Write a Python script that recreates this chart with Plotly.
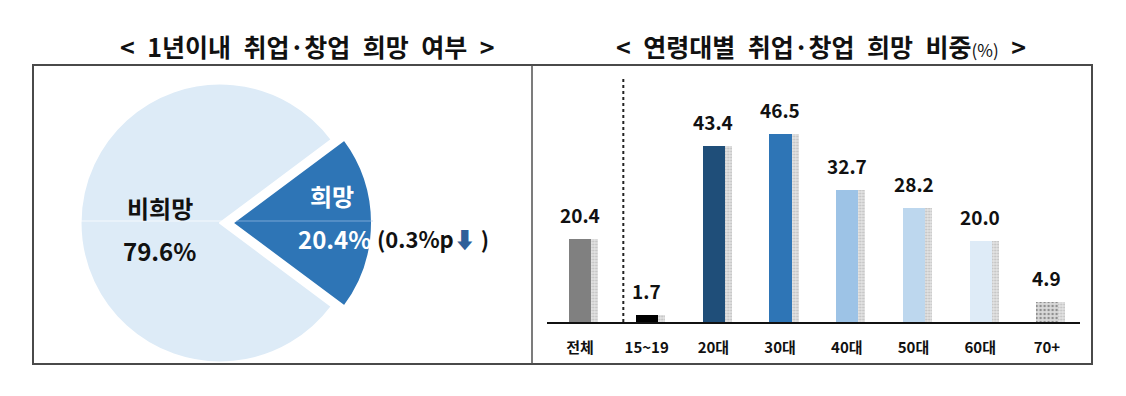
import plotly.graph_objects as go

# ---- data ----
pie_labels = ["희망", "비희망"]
pie_values = [20.4, 79.6]
pie_change = "(0.3%p"

age_groups = ["전체", "15~19", "20대", "30대", "40대", "50대", "60대", "70+"]
age_values = [20.4, 1.7, 43.4, 46.5, 32.7, 28.2, 20.0, 4.9]

title_left = "< 1년이내 취업·창업 희망 여부 >"
title_right = "< 연령대별 취업·창업 희망 비중(%) >"

# ---- styles ----
OFF = 8  # page body margin
W, H = 1110, 380
FONT = "Noto Sans CJK KR"
bar_colors = ["#808080", "#000000", "#1f4e79", "#2e75b6", "#9dc3e6", "#bdd7ee", "#deebf7", "#d9d9d9"]
pie_colors = ["#2e75b6", "#ddebf7"]


def px(x):
    return (x - OFF) / W


def py(y):
    return (H - (y - OFF)) / H


def wide(s):
    return s.replace(" ", "\u2002")


fig = go.Figure()

# pie
fig.add_trace(go.Pie(
    labels=pie_labels, values=pie_values, sort=False, direction="clockwise",
    rotation=90 - 360 * pie_values[0] / sum(pie_values) / 2,
    pull=[0.09, 0], textinfo="none", hoverinfo="label+percent",
    marker=dict(colors=pie_colors, line=dict(color="white", width=2)),
    domain=dict(x=[px(68), px(372)], y=[py(375), py(71)]),
    showlegend=False,
))

# bar shadows
fig.add_trace(go.Bar(
    x=age_groups, y=age_values, width=0.105, offset=0.165,
    marker=dict(color="#e3e3e3", line=dict(width=0),
                pattern=dict(shape=".", fgcolor="#9a9a9a", bgcolor="#e3e3e3", size=3, solidity=0.35)),
    showlegend=False, hoverinfo="skip",
))
# main bars
patterns = [""] * (len(age_groups) - 1) + ["."]
fig.add_trace(go.Bar(
    x=age_groups, y=age_values, width=0.33, offset=-0.165,
    marker=dict(color=bar_colors, line=dict(width=0),
                pattern=dict(shape=patterns, fgcolor="#c4c4c4", bgcolor="#dcdcdc", size=4, solidity=0.3)),
    showlegend=False,
))

# value labels
for g, v in zip(age_groups, age_values):
    fig.add_annotation(x=g, y=v, text=f"{v:.1f}", showarrow=False, xanchor="center", yanchor="bottom",
                       yshift=9, font=dict(family=FONT, size=19, color="#111", weight=600))


def paper_text(x, y, text, size, color="#111", weight="bold", xanchor="center"):
    fig.add_annotation(x=px(x), y=py(y), xref="paper", yref="paper", text=text, showarrow=False,
                       xanchor=xanchor, yanchor="middle",
                       font=dict(family=FONT, size=size, color=color, weight=weight))


# pie labels
paper_text(160, 207, pie_labels[1], 24)
paper_text(159, 250, f"{pie_values[1]:.1f}%", 24, weight=600)
paper_text(332, 195, pie_labels[0], 24, color="white")
paper_text(334, 238, f"{pie_values[0]:.1f}%", 24, color="white", weight=600)
paper_text(375, 238, pie_change + "<span style='color:#2e5f99'>⬇</span> )", 22, weight=600, xanchor="left")

# titles
paper_text(307, 46, wide(title_left), 25)
rt_main, rt_unit = title_right.split("(")
paper_text(821, 46, wide(rt_main) + "<span style='font-size:17px;font-weight:normal'>(" + rt_unit.split(")")[0]
           + ")</span>" + wide(rt_unit.split(")")[1]), 25)

shapes = [
    # outer box
    dict(type="rect", xref="paper", yref="paper", x0=px(33), x1=px(1092), y0=py(364), y1=py(65),
         line=dict(color="#4a4a4a", width=2)),
    # divider
    dict(type="line", xref="paper", yref="paper", x0=px(532), x1=px(532), y0=py(364), y1=py(65),
         line=dict(color="#505050", width=1.5)),
    # dotted separator
    dict(type="line", xref="x", yref="y", x0=0.65, x1=0.65, y0=0, y1=60,
         line=dict(color="#222", width=2, dash="dot")),
    # faint pie seam
    dict(type="line", xref="paper", yref="paper", x0=px(81), x1=px(222), y0=py(221), y1=py(221),
         line=dict(color="rgba(255,255,255,0.7)", width=1)),
    dict(type="line", xref="paper", yref="paper", x0=px(236), x1=px(373), y0=py(221), y1=py(221),
         line=dict(color="rgba(170,200,235,0.6)", width=1)),
]

fig.update_layout(
    width=W, height=H, margin=dict(l=0, r=0, t=0, b=0),
    paper_bgcolor="white", plot_bgcolor="rgba(0,0,0,0)",
    barmode="overlay", bargap=0,
    shapes=shapes,
    xaxis=dict(domain=[px(546.6), px(1080.3)], range=[-0.5, 7.5], type="category",
               showline=True, linecolor="#111", linewidth=1.5, showgrid=False, zeroline=False,
               ticks="", ticklabelstandoff=11,
               tickfont=dict(family=FONT, size=15, color="#111", weight="bold"), fixedrange=True),
    yaxis=dict(domain=[py(322), py(72)], range=[0, 250 / 4.05], visible=False, showgrid=False,
               zeroline=False, fixedrange=True),
    font=dict(family=FONT),
)

fig.write_html("out.html")
